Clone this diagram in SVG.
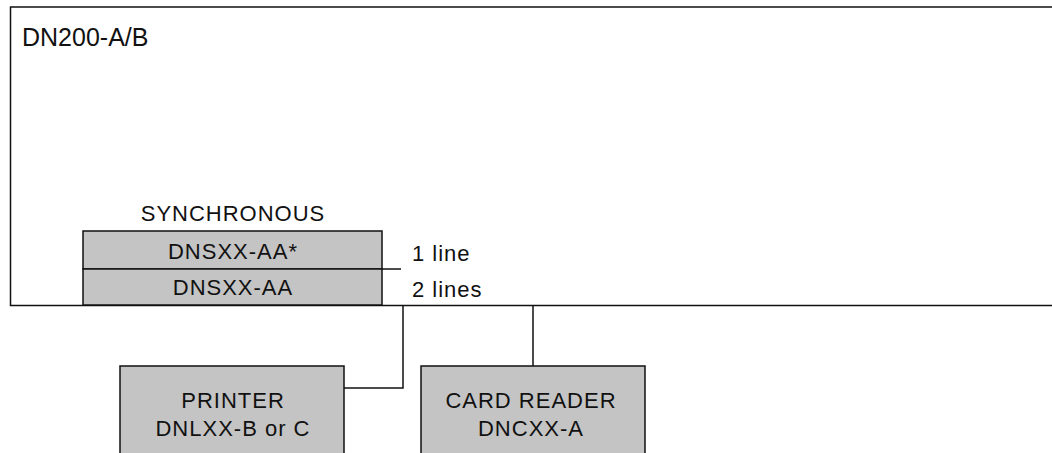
<svg xmlns="http://www.w3.org/2000/svg" width="1052" height="453" viewBox="0 0 1052 453">
<style>
text{font-family:"Liberation Sans",Arial,sans-serif;font-size:22px;letter-spacing:1px;fill:#111}
.title{font-size:25px;letter-spacing:0}
.box{fill:#c4c4c4;stroke:#111;stroke-width:1.5}
.ln{fill:none;stroke:#111;stroke-width:1.5}
.c{text-anchor:middle}
</style>
<rect width="1052" height="453" fill="#fff"/>
<g id="dn200">
<path class="ln" d="M1052 7 H10.5 V305.5 H1052" stroke-width="2"/>
<text class="title" x="22" y="46">DN200-A/B</text>
</g>
<g id="synchronous">
<text class="c" x="233" y="221">SYNCHRONOUS</text>
<rect class="box" x="83" y="231" width="299" height="38"/>
<rect class="box" x="83" y="269" width="299" height="36"/>
<text class="c" x="233" y="259">DNSXX-AA*</text>
<text class="c" x="233" y="295">DNSXX-AA</text>
<line class="ln" x1="382" y1="269" x2="401" y2="269"/>
<text x="412" y="261">1 line</text>
<text x="412" y="297">2 lines</text>
</g>
<g id="printer">
<rect class="box" x="120" y="366" width="224" height="100"/>
<text class="c" x="233" y="408">PRINTER</text>
<text class="c" x="233" y="436">DNLXX-B or C</text>
</g>
<g id="card-reader">
<rect class="box" x="421" y="366" width="224" height="100"/>
<text class="c" x="531" y="408">CARD READER</text>
<text class="c" x="531" y="436">DNCXX-A</text>
</g>
<g id="connectors">
<path class="ln" d="M403 305 V388 H344"/>
<path class="ln" d="M533 305 V366"/>
</g>
</svg>
